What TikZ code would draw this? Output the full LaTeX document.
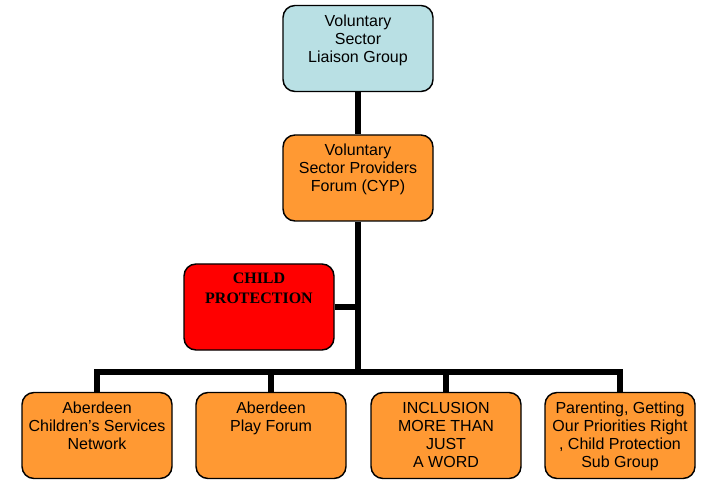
\documentclass[tikz,border=0pt]{standalone}
\usepackage{fontspec}
\usepackage{xcolor}
\usepackage{tikz}
\setmainfont{Liberation Sans}
\newfontfamily\timesfont{Liberation Serif}
\definecolor{liaisonblue}{RGB}{185,224,228}
\definecolor{forumorange}{RGB}{255,153,51}
\newcommand{\boxtxt}[1]{\parbox[t][50.5pt][t]{108pt}{\centering #1}}

\begin{document}
\begin{tikzpicture}[x=0.75pt,y=-0.75pt,
      line width=5pt,
      box/.style={rectangle,draw,line width=1.1pt,rounded corners=9pt,
        inner xsep=2pt,inner ysep=7pt,minimum width=112.5pt,minimum height=64.5pt,
        font=\fontsize{12}{13.5}\selectfont},
      cpbox/.style={box,fill=red,font=\timesfont\bfseries\fontsize{12}{14.5}\selectfont}]
      \useasboundingbox (0,0) rectangle (704,481);
      \tikzstyle{orangebox}=[box,fill=forumorange]
      \node[box,fill=liaisonblue] (Liaison) at (358,48.5) {\boxtxt{Voluntary\\Sector\\Liaison Group}};
      \node[orangebox] (Providers) at (358,178) {\boxtxt{Voluntary\\Sector Providers\\Forum (CYP)}};
      \node[cpbox] (Protection) at (259,307) {\boxtxt{CHILD\\PROTECTION}};
      \node[orangebox] (Network) at (97,435.5) {\boxtxt{Aberdeen\\Children’s Services\\Network}};
      \node[orangebox] (Play) at (271,435.5) {\boxtxt{Aberdeen\\Play Forum}};
      \node[orangebox] (Inclusion) at (446,435.5) {\boxtxt{INCLUSION\\MORE THAN\\JUST\\A WORD}};
      \node[orangebox] (Parenting) at (620,435.5) {\boxtxt{Parenting, Getting\\Our Priorities Right\\, Child Protection\\Sub Group}};
      \coordinate (Bar) at (358,372);
      \draw (Liaison) -- (Providers);
      \draw (Providers) -- (Bar);
      \draw (Protection.east) -- (Protection.east -| Providers.south);
      \foreach \b in {Network,Play,Inclusion,Parenting}
        \draw (Bar) -| (\b.north);
      % \draw (Bar) -- (Protection);
\end{tikzpicture}
\end{document}
